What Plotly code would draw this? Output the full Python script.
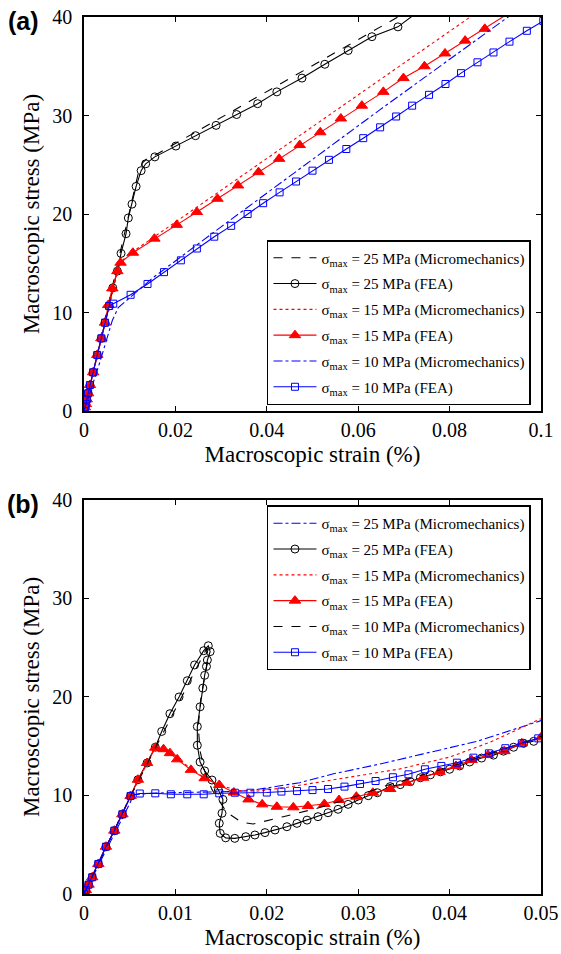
import plotly.graph_objects as go

# ---------------- Panel (a) data ----------------
a_fea25_x = [0, 0.0002, 0.0004, 0.0006, 0.0009, 0.0013, 0.0020, 0.0029, 0.0038, 0.0046, 0.0055,
             0.0063, 0.0073, 0.0081, 0.0092, 0.0097, 0.0105, 0.0114, 0.0125, 0.0135, 0.0155,
             0.0201, 0.0244, 0.0289, 0.0334, 0.0380, 0.0422, 0.0477, 0.0527, 0.0578, 0.0630,
             0.0687, 0.0730]
a_fea25_y = [0, 0.37, 0.71, 1.19, 1.80, 2.64, 3.93, 5.69, 7.38, 8.97, 10.66,
             12.5, 14.2, 16.0, 18.0, 19.6, 21.0, 22.8, 24.4, 25.1, 25.8,
             26.9, 27.95, 29.0, 30.1, 31.2, 32.4, 33.8, 35.2, 36.6, 38.0,
             39.0, 40.5]

a_mic25_x = [0, 0.0118, 0.0128, 0.0140, 0.0160, 0.0687, 0.0700]
a_mic25_y = [0, 24.0, 25.2, 25.7, 26.1, 40.0, 40.35]

a_fea15_x = [0, 0.0002, 0.0004, 0.0006, 0.0009, 0.0013, 0.0020, 0.0029, 0.0038, 0.0046, 0.0053,
             0.0062, 0.0073, 0.0080, 0.0107, 0.0154, 0.0203, 0.0247, 0.0292, 0.0337, 0.0382,
             0.0427, 0.0472, 0.0517, 0.0562, 0.0608, 0.0655, 0.0699, 0.0745, 0.0790, 0.0834,
             0.0877, 0.0930]
a_fea15_y = [0, 0.37, 0.71, 1.19, 1.80, 2.64, 3.93, 5.69, 7.38, 8.97, 10.76,
             12.45, 14.2, 15.06, 16.07, 17.5, 18.9, 20.2, 21.55, 22.9, 24.25,
             25.6, 27.0, 28.3, 29.7, 31.0, 32.4, 33.8, 35.0, 36.3, 37.6,
             38.8, 40.4]

a_mic15_x = [0, 0.0078, 0.0095, 0.0120, 0.0845, 0.0860]
a_mic15_y = [0, 15.0, 15.8, 16.6, 40.0, 40.5]

a_fea10_x = [0, 0.0002, 0.0004, 0.0006, 0.0009, 0.0013, 0.0020, 0.0029, 0.0038, 0.0046, 0.0055,
             0.0064, 0.0102, 0.0139, 0.0175, 0.0212, 0.0247, 0.0285, 0.0322, 0.0358, 0.0392,
             0.0428, 0.0464, 0.0500, 0.0536, 0.0574, 0.0611, 0.0648, 0.0683, 0.0718, 0.0755,
             0.0791, 0.0825, 0.0861, 0.0896, 0.0931, 0.0969, 0.1005]
a_fea10_y = [0, 0.37, 0.71, 1.19, 1.80, 2.64, 3.93, 5.69, 7.38, 8.97, 10.66,
             10.9, 11.8, 12.9, 14.1, 15.3, 16.5, 17.7, 18.8, 20.0, 21.1,
             22.2, 23.3, 24.4, 25.5, 26.6, 27.7, 28.8, 29.9, 31.0, 32.1,
             33.2, 34.3, 35.4, 36.4, 37.5, 38.6, 39.6]

a_mic10_x = [0, 0.0035, 0.0062, 0.0075, 0.0100, 0.0150, 0.0300, 0.0648, 0.0928, 0.0940]
a_mic10_y = [0, 5.0, 9.2, 10.5, 11.5, 13.5, 18.7, 30.6, 40.0, 40.4]

# ---------------- Panel (b) data ----------------
b_elastic_x = [0, 0.0002, 0.0005, 0.0009, 0.00157, 0.0024, 0.00332, 0.0042, 0.0051]
b_elastic_y = [0, 0.4, 0.95, 1.7, 3.05, 4.8, 6.43, 8.09, 9.95]

b_fea25_x = b_elastic_x + [0.0059, 0.0069, 0.0078, 0.0085, 0.0094, 0.0104, 0.0113, 0.0121, 0.0131,
             0.0136, 0.0138, 0.0135, 0.0134, 0.0132, 0.0130, 0.0127, 0.0124, 0.0124, 0.0127,
             0.0132, 0.0140, 0.0147, 0.0152, 0.0151, 0.0148, 0.0149, 0.0155, 0.0165, 0.0177,
             0.0187, 0.0198, 0.0209, 0.0222, 0.0233, 0.0244, 0.0256, 0.0267, 0.0278, 0.0289,
             0.0300, 0.0311, 0.0321, 0.0335, 0.0346, 0.0357, 0.0368, 0.0379, 0.0390, 0.0400,
             0.0411, 0.0422, 0.0435, 0.0448, 0.0459, 0.0470, 0.0481, 0.0492]
b_fea25_y = b_elastic_y + [11.6, 13.3, 14.9, 16.5, 18.3, 20.0, 21.65, 23.25, 24.7,
             25.2, 24.6, 23.75, 23.1, 22.2, 20.9, 19.0, 17.0, 15.1, 13.4,
             12.5, 11.57, 10.56, 9.6, 8.2, 7.18, 6.16, 5.7, 5.65, 5.82,
             5.99, 6.23, 6.5, 6.83, 7.17, 7.5, 7.85, 8.25, 8.6, 9.1,
             9.54, 9.98, 10.28, 10.9, 11.1, 11.4, 11.8, 12.1, 12.4, 12.66,
             13.0, 13.4, 13.8, 14.1, 14.5, 14.9, 15.3, 15.5]

b_mic10_x = [0, 0.0051, 0.0134, 0.0136, 0.0128, 0.0125, 0.0127, 0.0132, 0.0140, 0.0156,
             0.0172, 0.0185, 0.0218, 0.0255, 0.0291, 0.0327, 0.0400, 0.0450, 0.0500]
b_mic10_y = [0, 9.95, 24.9, 24.0, 20.0, 17.0, 14.5, 12.5, 10.6, 8.3,
             7.3, 7.1, 7.85, 8.7, 9.7, 10.9, 12.9, 14.4, 16.0]

b_fea15_x = b_elastic_x + [0.0059, 0.0069, 0.0078, 0.0087, 0.0094, 0.0102, 0.0117, 0.0132, 0.0148,
             0.0164, 0.0180, 0.0195, 0.0211, 0.0229, 0.0245, 0.0263, 0.0279, 0.0298, 0.0316,
             0.0335, 0.0353, 0.0371, 0.0389, 0.0407, 0.0424, 0.0442, 0.0460, 0.0479, 0.0500]
b_fea15_y = b_elastic_y + [11.6, 13.3, 14.85, 14.7, 14.3, 13.67, 12.6, 11.75, 11.07,
             10.3, 9.6, 9.1, 8.86, 8.8, 8.93, 9.14, 9.54, 9.88, 10.28,
             10.66, 11.3, 11.8, 12.4, 13.0, 13.6, 14.1, 14.5, 15.3, 15.9]

b_mic15_x = [0, 0.0051, 0.0078, 0.0090, 0.0110, 0.0130, 0.0150, 0.0170, 0.0190, 0.0220,
             0.0260, 0.0300, 0.0346, 0.0400, 0.0444, 0.0500]
b_mic15_y = [0, 9.95, 14.9, 14.6, 13.2, 11.9, 11.0, 10.5, 10.45, 10.8,
             11.4, 12.0, 12.7, 13.9, 15.4, 17.8]

b_fea10_x = b_elastic_x + [0.0061, 0.0078, 0.0095, 0.0113, 0.0131, 0.0148, 0.0165, 0.0182, 0.0200,
             0.0216, 0.0233, 0.0250, 0.0267, 0.0285, 0.0302, 0.0319, 0.0338, 0.0355, 0.0373,
             0.0391, 0.0408, 0.0426, 0.0443, 0.0461, 0.0479, 0.0497]
b_fea10_y = b_elastic_y + [10.2, 10.22, 10.12, 10.12, 10.12, 10.22, 10.28, 10.28, 10.3,
             10.4, 10.45, 10.55, 10.66, 10.9, 11.17, 11.47, 11.85, 12.15, 12.66,
             13.0, 13.33, 13.84, 14.28, 14.8, 15.3, 15.8]

b_mic25_x = [0, 0.0055, 0.0080, 0.0120, 0.0160, 0.0182, 0.0236, 0.0273, 0.0324, 0.0370, 0.0430, 0.0500]
b_mic25_y = [0, 10.1, 10.25, 10.3, 10.4, 10.5, 11.3, 12.2, 13.2, 14.2, 15.5, 17.6]

a_xticks = [0, 0.02, 0.04, 0.06, 0.08, 0.1]
a_xticktext = ["0", "0.02", "0.04", "0.06", "0.08", "0.1"]
b_xticks = [0, 0.01, 0.02, 0.03, 0.04, 0.05]
b_xticktext = ["0", "0.01", "0.02", "0.03", "0.04", "0.05"]
y_ticks = [0, 10, 20, 30, 40]

SIG = "σ<sub>max</sub>"
SERIF = "Liberation Serif"
SANS = "Liberation Sans"

fig = go.Figure()

def line_tr(x, y, name, color, dash, xa, ya, legend, grp):
    return go.Scatter(x=x, y=y, mode="lines", name=name, xaxis=xa, yaxis=ya,
                      line=dict(color=color, width=1.1, dash=dash),
                      legend=legend, legendgroup=grp)

def mk_tr(x, y, name, color, symbol, size, xa, ya, legend, grp):
    return go.Scatter(x=x, y=y, mode="lines+markers", name=name, xaxis=xa, yaxis=ya,
                      line=dict(color=color, width=1.1),
                      marker=dict(symbol=symbol, size=size, color=color,
                                  line=dict(color=color, width=1)),
                      legend=legend, legendgroup=grp)

# Panel (a)
fig.add_trace(line_tr(a_mic25_x, a_mic25_y, f"{SIG} = 25 MPa (Micromechanics)", "black", "dash", "x", "y", "legend", "a1"))
fig.add_trace(mk_tr(a_fea25_x, a_fea25_y, f"{SIG} = 25 MPa (FEA)", "black", "circle-open", 8, "x", "y", "legend", "a2"))
fig.add_trace(line_tr(a_mic15_x, a_mic15_y, f"{SIG} = 15 MPa (Micromechanics)", "red", "dot", "x", "y", "legend", "a3"))
fig.add_trace(mk_tr(a_fea15_x, a_fea15_y, f"{SIG} = 15 MPa (FEA)", "red", "triangle-up", 10, "x", "y", "legend", "a4"))
fig.add_trace(line_tr(a_mic10_x, a_mic10_y, f"{SIG} = 10 MPa (Micromechanics)", "blue", "dashdot", "x", "y", "legend", "a5"))
fig.add_trace(mk_tr(a_fea10_x, a_fea10_y, f"{SIG} = 10 MPa (FEA)", "blue", "square-open", 7, "x", "y", "legend", "a6"))

# Panel (b)
fig.add_trace(line_tr(b_mic25_x, b_mic25_y, f"{SIG} = 25 MPa (Micromechanics)", "blue", "dashdot", "x2", "y2", "legend2", "b1"))
fig.add_trace(mk_tr(b_fea25_x, b_fea25_y, f"{SIG} = 25 MPa (FEA)", "black", "circle-open", 8, "x2", "y2", "legend2", "b2"))
fig.add_trace(line_tr(b_mic15_x, b_mic15_y, f"{SIG} = 15 MPa (Micromechanics)", "red", "dot", "x2", "y2", "legend2", "b3"))
fig.add_trace(mk_tr(b_fea15_x, b_fea15_y, f"{SIG} = 15 MPa (FEA)", "red", "triangle-up", 10, "x2", "y2", "legend2", "b4"))
fig.add_trace(line_tr(b_mic10_x, b_mic10_y, f"{SIG} = 10 MPa (Micromechanics)", "black", "dash", "x2", "y2", "legend2", "b5"))
fig.add_trace(mk_tr(b_fea10_x, b_fea10_y, f"{SIG} = 10 MPa (FEA)", "blue", "square-open", 7, "x2", "y2", "legend2", "b6"))

axis_common = dict(showline=True, linecolor="black", linewidth=1.5, mirror="ticks",
                   ticks="inside", ticklen=5, tickwidth=1, tickcolor="black",
                   showgrid=False, zeroline=False, automargin=False,
                   tickfont=dict(family=SERIF, size=20, color="black"))
title_font = dict(family=SERIF, size=23, color="black")

legend_common = dict(xanchor="left", yanchor="top", bgcolor="white",
                     bordercolor="black", borderwidth=1.5, tracegroupgap=3.3, itemwidth=43,
                     font=dict(family=SERIF, size=15, color="black"))

fig.update_layout(
    width=561, height=954, autosize=False,
    margin=dict(l=84, r=20, t=17, b=60, autoexpand=False),
    paper_bgcolor="white", plot_bgcolor="white",
    font=dict(family=SERIF, color="black"),
    xaxis=dict(domain=[0, 1], anchor="y", range=[0, 0.1], tickvals=a_xticks, ticktext=a_xticktext,
               title=dict(text="Macroscopic strain (%)", font=title_font, standoff=6),
               **axis_common),
    yaxis=dict(domain=[0.5507, 1], anchor="x", range=[0, 40], tickvals=y_ticks, ticklabelstandoff=6,
               title=dict(text="Macroscopic stress (MPa)", font=title_font, standoff=6),
               **axis_common),
    xaxis2=dict(domain=[0, 1], anchor="y2", range=[0, 0.05], tickvals=b_xticks, ticktext=b_xticktext,
                title=dict(text="Macroscopic strain (%)", font=title_font, standoff=6),
                **axis_common),
    yaxis2=dict(domain=[0, 0.4493], anchor="x2", range=[0, 40], tickvals=y_ticks, ticklabelstandoff=6,
                title=dict(text="Macroscopic stress (MPa)", font=title_font, standoff=6),
                **axis_common),
    legend=dict(x=0.4004, y=0.7457, **legend_common),
    legend2=dict(x=0.4004, y=0.4430, **legend_common),
    annotations=[
        dict(text="<b>(a)</b>", x=0, y=1, xref="paper", yref="paper", xanchor="center", yanchor="middle",
             xshift=-61, yshift=-4, showarrow=False,
             font=dict(family=SANS, size=25, color="black")),
        dict(text="<b>(b)</b>", x=0, y=0.4493, xref="paper", yref="paper", xanchor="center", yanchor="middle",
             xshift=-61, yshift=-4, showarrow=False,
             font=dict(family=SANS, size=25, color="black")),
    ],
    showlegend=True,
)

fig.write_html("out.html", config={"responsive": False})
